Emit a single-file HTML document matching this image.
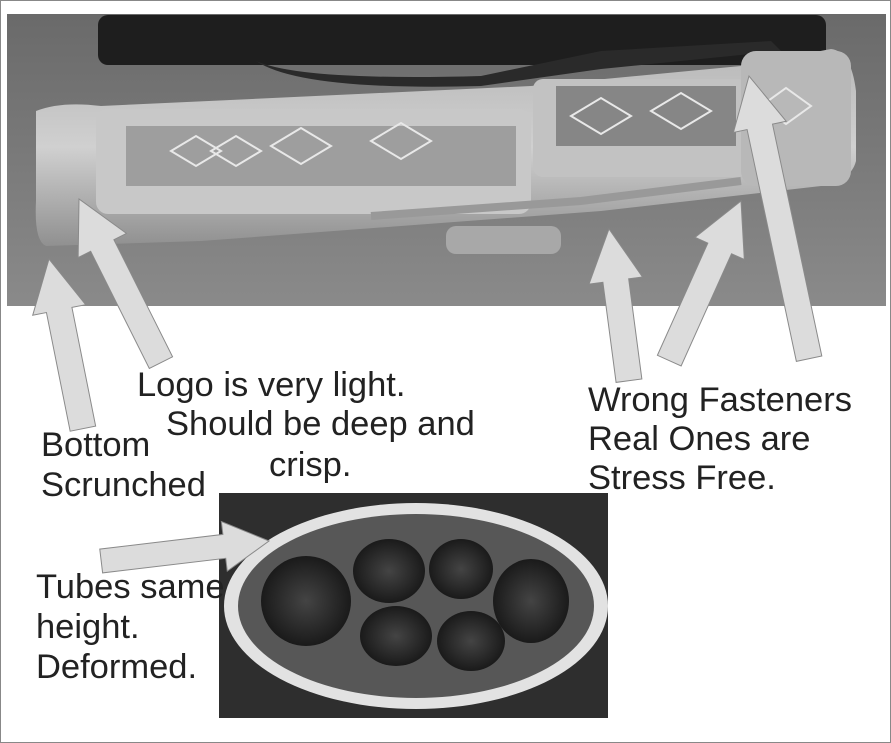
<!DOCTYPE html>
<html><head><meta charset="utf-8"><style>
html,body{margin:0;padding:0;background:#fff}
#w{position:relative;width:889px;height:741px;border:1px solid #888;overflow:hidden;background:#fff}
.t{position:absolute;font-family:"Liberation Sans",sans-serif;font-size:34.5px;color:#222;line-height:40px;white-space:nowrap}
</style></head><body><div id="w">
<svg width="891" height="743" style="position:absolute;left:0;top:0">
<defs>
<linearGradient id="bg" x1="0" y1="0" x2="0" y2="1"><stop offset="0" stop-color="#6a6a6a"/><stop offset="1" stop-color="#8a8a8a"/></linearGradient>
<linearGradient id="case" x1="0" y1="0" x2="0" y2="1"><stop offset="0" stop-color="#b8b8b8"/><stop offset="0.5" stop-color="#d0d0d0"/><stop offset="1" stop-color="#909090"/></linearGradient>
<radialGradient id="hole" cx="0.5" cy="0.5" r="0.5"><stop offset="0" stop-color="#444"/><stop offset="1" stop-color="#1a1a1a"/></radialGradient>
</defs>
<rect x="6" y="13" width="879" height="292" fill="url(#bg)"/>
<rect x="97" y="14" width="728" height="50" rx="10" fill="#1e1e1e"/>
<path d="M255 60 Q300 80 480 75 L600 50 L770 40 L780 50 L600 68 L480 85 Q300 90 255 60Z" fill="#2a2a2a"/>
<path d="M35 110 Q60 100 100 105 L530 85 L740 65 L830 48 Q850 50 855 90 L855 160 Q850 180 820 185 L600 210 L200 240 L45 245 Q33 240 35 200Z" fill="url(#case)"/>
<rect x="95" y="108" width="435" height="105" rx="12" fill="#c8c8c8"/>
<rect x="125" y="125" width="390" height="60" fill="#6a6a6a" opacity="0.45"/>
<rect x="532" y="78" width="215" height="98" rx="10" fill="#c2c2c2"/>
<rect x="555" y="85" width="180" height="60" fill="#4a4a4a" opacity="0.5"/>
<rect x="740" y="50" width="110" height="135" rx="15" fill="#b8b8b8"/>
<g fill="none" stroke="#e8e8e8" stroke-width="2">
<path d="M170 150 l25 -15 l25 15 l-25 15z M210 150 l25 -15 l25 15 l-25 15z M270 145 l30 -18 l30 18 l-30 18z M370 140 l30 -18 l30 18 l-30 18z M570 115 l30 -18 l30 18 l-30 18z M650 110 l30 -18 l30 18 l-30 18z M760 105 l25 -18 l25 18 l-25 18z"/>
</g>
<rect x="445" y="225" width="115" height="28" rx="10" fill="#a8a8a8"/>
<path d="M370 215 L580 200 L740 180" stroke="#999" stroke-width="8" fill="none"/>
<rect x="218" y="492" width="389" height="225" fill="#2e2e2e"/>
<ellipse cx="415" cy="605" rx="192" ry="103" fill="#e2e2e2"/>
<ellipse cx="415" cy="605" rx="178" ry="92" fill="#575757"/>
<ellipse cx="305" cy="600" rx="45" ry="45" fill="url(#hole)"/>
<ellipse cx="388" cy="570" rx="36" ry="32" fill="url(#hole)"/>
<ellipse cx="460" cy="568" rx="32" ry="30" fill="url(#hole)"/>
<ellipse cx="530" cy="600" rx="38" ry="42" fill="url(#hole)"/>
<ellipse cx="395" cy="635" rx="36" ry="30" fill="url(#hole)"/>
<ellipse cx="470" cy="640" rx="34" ry="30" fill="url(#hole)"/>
<g fill="#dcdcdc" stroke="#8a8a8a" stroke-width="1">
<polygon transform="translate(48,258) rotate(-101.3)" points="0,0 -52,-27 -52,-13 -173,-13 -173,13 -52,13 -52,27"/>
<polygon transform="translate(78,198) rotate(-116.6)" points="0,0 -52,-27 -52,-13 -183,-13 -183,13 -52,13 -52,27"/>
<polygon transform="translate(608,228) rotate(-97.5)" points="0,0 -52,-27 -52,-13 -153,-13 -153,13 -52,13 -52,27"/>
<polygon transform="translate(740,200) rotate(-65.8)" points="0,0 -52,-27 -52,-13 -175,-13 -175,13 -52,13 -52,27"/>
<polygon transform="translate(748,75) rotate(-102)" points="0,0 -52,-27 -52,-13 -289,-13 -289,13 -52,13 -52,27"/>
<polygon transform="translate(268,540) rotate(-6.8)" points="0,0 -45,-25 -45,-12 -169,-12 -169,12 -45,12 -45,25"/>
</g>
</svg>
<div class="t" style="left:136px;top:364px">Logo is very light.</div>
<div class="t" style="left:165px;top:403px">Should be deep and</div>
<div class="t" style="left:268px;top:444px">crisp.</div>
<div class="t" style="left:40px;top:424px">Bottom</div>
<div class="t" style="left:40px;top:464px">Scrunched</div>
<div class="t" style="left:587px;top:379px">Wrong Fasteners</div>
<div class="t" style="left:587px;top:418px">Real Ones are</div>
<div class="t" style="left:587px;top:457px">Stress Free.</div>
<div class="t" style="left:35px;top:566px">Tubes same</div>
<div class="t" style="left:35px;top:606px">height.</div>
<div class="t" style="left:35px;top:646px">Deformed.</div>
</div></body></html>
